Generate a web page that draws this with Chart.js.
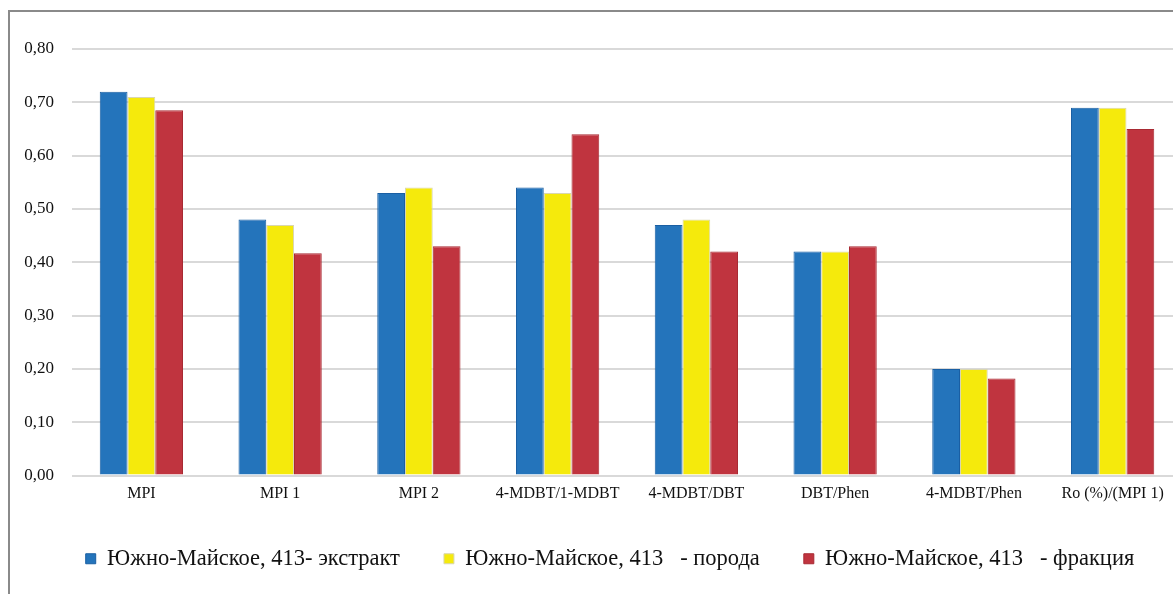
<!DOCTYPE html>
<html>
<head>
<meta charset="utf-8">
<script src="https://cdn.jsdelivr.net/npm/chart.js@4/dist/chart.umd.min.js"></script>
<style>
    html, body { margin: 0; padding: 0; background: #fff; overflow: hidden; }
    #marco {
        position: absolute;
        left: 8px;
        top: 10px;
        width: 1220px;
        height: 640px;
        border-top: 2px solid #8a8a8a;
        border-left: 2px solid #8a8a8a;
    }
    #grafico { display: block; }
</style>
</head>
<body>
<div id="marco">
    <div style="width:1200px;height:568px;position:relative;">
        <canvas id="grafico"></canvas>
    </div>
</div>
<script>
const categorias = ['MPI', 'MPI 1', 'MPI 2', '4-MDBT/1-MDBT', '4-MDBT/DBT', 'DBT/Phen', '4-MDBT/Phen', 'Ro (%)/(MPI 1)'];

const extracto = [0.72, 0.48, 0.53, 0.54, 0.47, 0.42, 0.20, 0.69];
const roca = [0.71, 0.47, 0.54, 0.53, 0.48, 0.42, 0.20, 0.69];
const fraccion = [0.685, 0.417, 0.43, 0.64, 0.42, 0.43, 0.182, 0.65];

const nombresSeries = [
    'Южно-Майское, 413- экстракт',
    'Южно-Майское, 413   - порода',
    'Южно-Майское, 413   - фракция'
];

const ticksY = [0, 0.1, 0.2, 0.3, 0.4, 0.5, 0.6, 0.7, 0.8];

const fuente = 'Liberation Serif';

// la leyenda del original no esta centrada en el lienzo, se corre un poco
const correrLeyenda = {
    id: 'correrLeyenda',
    afterLayout: function(chart) {
        chart.legend.left += 14;
        chart.legend.right += 14;
    }
};

function crearGrafico() {
    const ctx = document.getElementById('grafico').getContext('2d');
    new Chart(ctx, {
        type: 'bar',
        data: {
            labels: categorias,
            datasets: [{
                label: nombresSeries[0],
                data: extracto,
                backgroundColor: '#2474bb',
                borderColor: '#1a5fa3',
                borderWidth: 1
            }, {
                label: nombresSeries[1],
                data: roca,
                backgroundColor: '#f5ea0c',
                borderColor: '#d9d6b0',
                borderWidth: 1
            }, {
                label: nombresSeries[2],
                data: fraccion,
                backgroundColor: '#c0343f',
                borderColor: '#a82a33',
                borderWidth: 1
            }]
        },
        options: {
            responsive: true,
            maintainAspectRatio: false,
            animation: false,
            layout: {
                padding: { top: 37, left: 0, right: 28, bottom: 0 }
            },
            datasets: {
                bar: {
                    categoryPercentage: 0.6,
                    barPercentage: 1
                }
            },
            plugins: {
                tooltip: { enabled: false },
                legend: {
                    position: 'bottom',
                    align: 'center',
                    labels: {
                        boxWidth: 10,
                        boxHeight: 10,
                        padding: 44,
                        color: '#111',
                        font: { family: fuente, size: 22.5 }
                    }
                }
            },
            scales: {
                x: {
                    grid: { display: false, drawTicks: false },
                    border: { display: false },
                    ticks: {
                        padding: 9,
                        color: '#111',
                        maxRotation: 0,
                        autoSkip: false,
                        font: { family: fuente, size: 16 }
                    },
                    afterFit: function(scale) {
                        scale.height = 28;
                    }
                },
                y: {
                    min: 0,
                    max: 0.8,
                    grid: { color: '#d9d9d9', lineWidth: 2, drawTicks: false },
                    border: { display: false },
                    afterBuildTicks: function(scale) {
                        scale.ticks = ticksY.map(function(v) { return { value: v }; });
                    },
                    ticks: {
                        padding: 18,
                        color: '#111',
                        font: { family: fuente, size: 17 },
                        callback: function(valor) {
                            return Number(valor).toFixed(2).replace('.', ',');
                        }
                    },
                    afterFit: function(scale) {
                        scale.width = 62;
                    }
                }
            }
        },
        plugins: [correrLeyenda]
    });
}

crearGrafico();
</script>
</body>
</html>
